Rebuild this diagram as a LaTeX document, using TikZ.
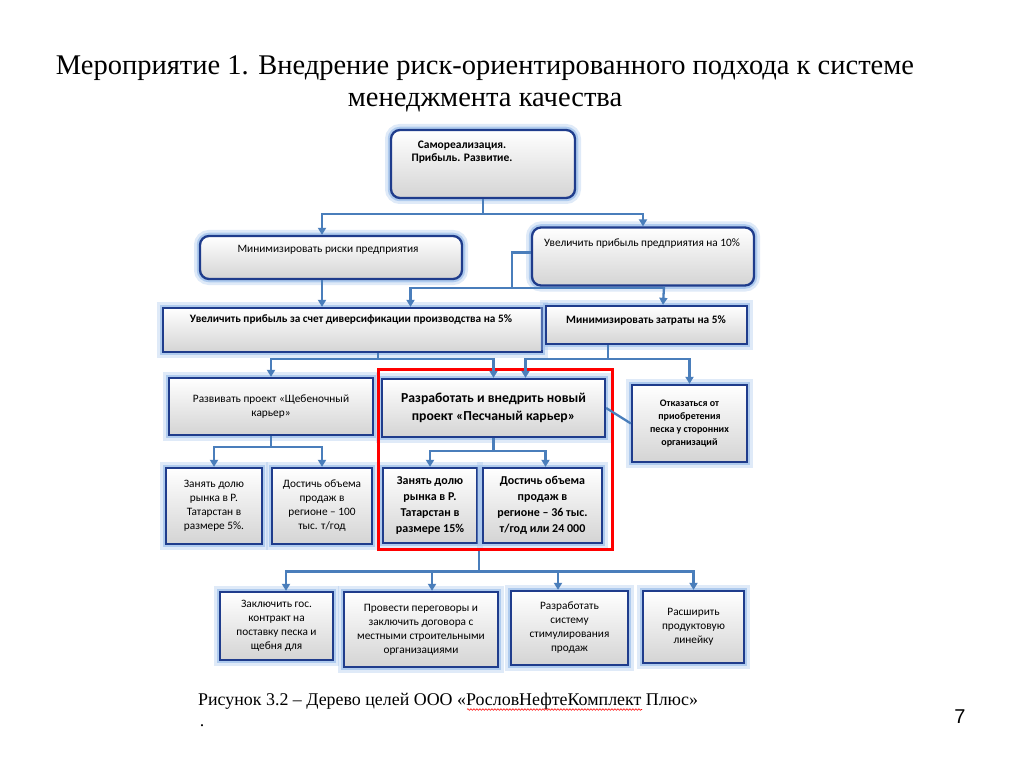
\documentclass[tikz,border=0pt]{standalone}
\usepackage{fontspec}
\setmainfont{Liberation Serif}
\newfontfamily\goalfont{Carlito}
\newfontfamily\slidenum{Liberation Sans}
\usepackage{tikz}
\usetikzlibrary{arrows.meta, positioning, decorations.pathmorphing}
\definecolor{navy}{HTML}{1F3C8C}
\definecolor{glow}{HTML}{A4C4EC}
\definecolor{link}{HTML}{4A7EBB}
\definecolor{shadegray}{HTML}{D4D4D4}
\tikzstyle{arrow}=[-{Triangle[width=8pt,length=7pt]}, line width=2.3pt, color=link]
\tikzstyle{line}=[line width=2.3pt, color=link]
\newcommand\goalrm{\goalfont\fontsize{11.3}{14}\selectfont}
\newcommand\goalbf{\goalfont\bfseries\fontsize{11.3}{14}\selectfont}

\begin{document}
\begin{tikzpicture}[x=1pt, y=-1pt,
  goal/.style={rectangle, draw=navy, line width=2.3pt,
               top color=white, bottom color=shadegray,
               preaction={draw=glow, line width=12pt, opacity=0.35},
               preaction={draw=glow, line width=6.5pt, opacity=0.8},
               inner sep=2pt, align=center, font=\goalrm},
  rgoal/.style={goal, rounded corners=9pt},
  gtxt/.style={align=center, inner sep=0pt, font=\goalrm}
]
\fill[white] (0,0) rectangle (1024,767);
\useasboundingbox (0,0) rectangle (1024,767);

% Title
\node[font=\fontsize{28.5}{32}\selectfont, align=center] (title) at (485,84)
  {Мероприятие 1. Внедрение риск-ориентированного подхода к системе\\менеджмента качества};

% Level 1: top goal
\node[rgoal, minimum width=184pt, minimum height=68pt] (top) at (483,164) {};
\node[gtxt, font=\goalfont\bfseries\fontsize{11.5}{13}\selectfont] (top-t) at (462,152)
  {Самореализация.\\Прибыль. Развитие.};

% Level 2
\node[rgoal, minimum width=262pt, minimum height=43pt] (l2l) at (331,257.5) {};
\node[gtxt] (l2l-t) at (328,250) {Минимизировать риски предприятия};
\node[rgoal, minimum width=222pt, minimum height=58pt] (l2r) at (643,256.5) {};
\node[gtxt] (l2r-t) at (642,244) {Увеличить прибыль предприятия на 10\%};

% Level 3
\node[goal, minimum width=379pt, minimum height=44pt] (l3l) at (352.5,330) {};
\node[gtxt, font=\goalbf] (l3l-t) at (351,320) {Увеличить прибыль за счет диверсификации производства на 5\%};
\node[goal, minimum width=201pt, minimum height=38pt] (l3r) at (646.5,325) {};
\node[gtxt, font=\goalbf] (l3r-t) at (646,320) {Минимизировать затраты на 5\%};

% Level 4
\node[goal, minimum width=204pt, minimum height=57pt] (l4a) at (271,406.5)
  {Развивать проект «Щебеночный\\карьер»};
\node[goal, minimum width=223pt, minimum height=58pt, font=\goalfont\bfseries\fontsize{13.7}{18}\selectfont]
  (l4b) at (493.5,408) {Разработать и внедрить новый\\проект «Песчаный карьер»};
\node[goal, minimum width=115pt, minimum height=77pt, font=\goalfont\bfseries\fontsize{10}{13}\selectfont]
  (l4c) at (689.5,423.5) {Отказаться от\\приобретения\\песка у сторонних\\организаций};

% Level 5
\node[goal, minimum width=96pt, minimum height=76pt] (l5a) at (214,506)
  {Занять долю\\рынка в Р.\\Татарстан в\\размере 5\%.};
\node[goal, minimum width=100pt, minimum height=76pt] (l5b) at (322,506)
  {Достичь объема\\продаж в\\регионе – 100\\тыс. т/год};
\node[goal, minimum width=94pt, minimum height=75pt, font=\goalfont\bfseries\fontsize{12}{16}\selectfont]
  (l5c) at (430,505.5) {Занять долю\\рынка в Р.\\Татарстан в\\размере 15\%};
\node[goal, minimum width=119pt, minimum height=75pt, font=\goalfont\bfseries\fontsize{12}{16}\selectfont]
  (l5d) at (542.5,505.5) {Достичь объема\\продаж в\\регионе – 36 тыс.\\т/год или 24 000};

% Level 6
\node[goal, minimum width=113pt, minimum height=68pt] (l6a) at (276.5,626)
  {Заключить гос.\\контракт на\\поставку песка и\\щебня для};
\node[goal, minimum width=154pt, minimum height=75pt] (l6b) at (421,629.5)
  {Провести переговоры и\\заключить договора с\\местными строительными\\организациями};
\node[goal, minimum width=117pt, minimum height=74pt] (l6c) at (569.5,628)
  {Разработать\\систему\\стимулирования\\продаж};
\node[goal, minimum width=101pt, minimum height=72pt] (l6d) at (693.5,627)
  {Расширить\\продуктовую\\линейку};

% Highlight frame
\node[draw=red, line width=3pt, minimum width=234pt, minimum height=180pt, inner sep=0pt]
  (focus) at (495,459) {};

% Connectors
\draw[arrow] (top.south) -- ++(0,15) -| ([xshift=-9pt]l2l.north);
\draw[arrow] (top.south) -- ++(0,15) -| (l2r.north);
\draw[arrow] ([xshift=-9pt]l2l.south) -- ([xshift=-9pt]l2l.south |- l3l.north);
\coordinate (j2) at (512,288);
\draw[arrow] ([yshift=4pt]l2r.west) -| (j2) -| ([xshift=58pt]l3l.north);
\draw[line] (j2) -- ([xshift=21pt]l2r.south |- j2);
\draw[arrow] ([xshift=21pt]l2r.south) -- ([xshift=16.5pt]l3r.north);
\coordinate (j3) at (378,359);
\draw[arrow] ([xshift=25.5pt]l3l.south) -- (j3) -| (l4a.north);
\draw[arrow] (j3) -| (l4b.north);
\coordinate (j4) at (608,359);
\draw[arrow] (l3r.south -| j4) -- (j4) -| ([xshift=32pt]l4b.north);
\draw[arrow] (j4) -| (l4c.north);
\draw[line] (l4b.east) -- (l4c.west);
\draw[arrow] (l4a.south) -- ++(0,11) -| (l5a.north);
\draw[arrow] (l4a.south) -- ++(0,11) -| (l5b.north);
\draw[arrow] (l4b.south) -- ++(0,13) -| (l5c.north);
\draw[arrow] (l4b.south) -- ++(0,13) -| ([xshift=3pt]l5d.north);
\draw[arrow] ([xshift=-16pt]focus.south) -- ++(0,21) -| ([xshift=9.5pt]l6a.north);
\draw[arrow] ([xshift=-16pt]focus.south) -- ++(0,21) -| ([xshift=11pt]l6b.north);
\draw[arrow] ([xshift=-16pt]focus.south) -- ++(0,21) -| ([xshift=-11.5pt]l6c.north);
\draw[arrow] ([xshift=-16pt]focus.south) -- ++(0,21) -| (l6d.north);

% Caption and page number
\node[anchor=base west, inner sep=0pt, font=\fontsize{17.9}{20}\selectfont] (caption) at (198,705)
  {Рисунок 3.2 – Дерево целей ООО «РословНефтеКомплект Плюс»};
\draw[red, line width=0.6pt, decorate, decoration={snake, amplitude=0.8pt, segment length=3pt}]
  (467,709.5) -- (642,709.5);
\node[anchor=base, inner sep=0pt, font=\fontsize{17.9}{20}\selectfont] (dot) at (202,726) {.};
\node[font=\slidenum\fontsize{20}{24}\selectfont] (pagenum) at (960,717) {7};
\end{tikzpicture}
\end{document}
